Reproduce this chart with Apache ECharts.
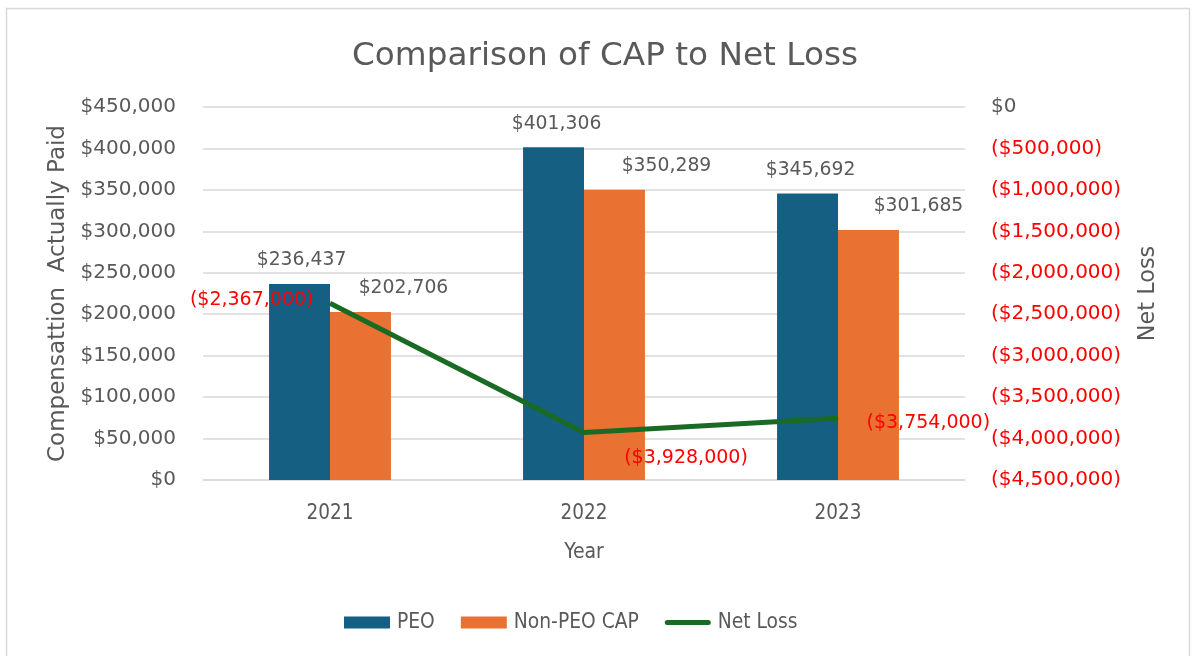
<!DOCTYPE html>
<html>
<head>
<meta charset="utf-8">
<script src="https://cdn.jsdelivr.net/npm/echarts@6/dist/echarts.min.js"></script>
<style>
  html, body { margin: 0; padding: 0; background: #fff; }
  #chart { width: 1194px; height: 656px; }
</style>
</head>
<body>
<div id="chart"></div>
<script>
// data
const years = ['2021', '2022', '2023'];
const peoValues = [236437, 401306, 345692];
const nonPeoValues = [202706, 350289, 301685];
const netLossValues = [-2367000, -3928000, -3754000];

const FONT = 'DejaVu Sans';
const NARROW = '"Liberation Sans Narrow", "DejaVu Sans Condensed", sans-serif';
const GRAY = '#595959';
const RED = '#FF0000';

const money = v => '$' + Math.abs(v).toLocaleString('en-US');

// label placement (the excel chart nudged some labels by hand)
const peoLabelOffsets = [[2, 0], [3, 0], [3, 0]];
const nonPeoLabelOffsets = [[43, 0], [52, 0], [50, 0]];
const netLossLabels = [
    {position: 'left', distance: 16, offset: [0, -3]},
    {position: 'bottom', offset: [102, 10]},
    {position: 'right', distance: 28, offset: [0, 5]},
];

const chart = echarts.init(document.getElementById('chart'));

const barLabel = {
    show: true, position: 'top', distance: 14,
    fontFamily: FONT, fontSize: 18.8, color: GRAY,
    formatter: p => money(p.value),
};

const option = {
    animation: false,
    textStyle: {fontFamily: FONT},
    title: {
        text: 'Comparison of CAP to Net Loss',
        left: 347,
        top: 35,
        textStyle: {fontFamily: FONT, fontSize: 32.7, fontWeight: 'normal', color: GRAY},
    },
    graphic: [{
        type: 'rect',
        shape: {x: 6.5, y: 8.5, width: 1183, height: 660},
        style: {fill: 'none', stroke: '#d9d9d9', lineWidth: 1.5},
        silent: true,
    }],
    legend: {
        top: 607,
        left: 339,
        itemWidth: 46,
        itemHeight: 12,
        itemGap: 26,
        textStyle: {fontFamily: NARROW, fontSize: 20.8, color: GRAY, padding: [0, 0, 0, 2]},
        data: [
            {name: 'PEO', icon: 'rect'},
            {name: 'Non-PEO CAP', icon: 'rect'},
            {name: 'Net Loss', icon: 'path://M0,0 M0,12 M2.5,3.5 L43.5,3.5 A2.5,2.5 0 0 1 43.5,8.5 L2.5,8.5 A2.5,2.5 0 0 1 2.5,3.5 Z M46,0'},
        ],
    },
    grid: {left: 203, right: 229, top: 107, bottom: 176},
    xAxis: {
        type: 'category',
        data: years,
        name: 'Year',
        nameLocation: 'middle',
        nameGap: 62,
        nameTextStyle: {fontFamily: NARROW, fontSize: 21, color: GRAY},
        axisLine: {lineStyle: {color: '#d9d9d9', width: 1.5}},
        axisTick: {show: false},
        axisLabel: {fontFamily: NARROW, fontSize: 20.5, color: GRAY, margin: 23},
    },
    yAxis: [
        {
            type: 'value',
            min: 0,
            max: 450000,
            interval: 50000,
            name: 'Compensattion  Actually Paid',
            nameLocation: 'middle',
            nameGap: 132,
            nameTextStyle: {fontFamily: FONT, fontSize: 23, color: GRAY},
            axisLine: {show: false},
            axisTick: {show: false},
            splitLine: {lineStyle: {color: '#d9d9d9', width: 1.5}},
            axisLabel: {
                fontFamily: FONT, fontSize: 20, color: GRAY, margin: 27,
                formatter: v => money(v),
            },
        },
        {
            type: 'value',
            min: -4500000,
            max: 0,
            interval: 500000,
            name: 'Net Loss',
            nameLocation: 'middle',
            nameGap: 172,
            nameTextStyle: {fontFamily: FONT, fontSize: 22.4, color: GRAY},
            axisLine: {show: false},
            axisTick: {show: false},
            splitLine: {show: false},
            axisLabel: {
                fontFamily: FONT, fontSize: 20, margin: 26,
                formatter: v => v === 0 ? '{g|$0}' : '{r|(' + money(v) + ')}',
                rich: {
                    g: {fontFamily: FONT, fontSize: 20, color: GRAY},
                    r: {fontFamily: FONT, fontSize: 20, color: RED},
                },
            },
        },
    ],
    series: [
        {
            name: 'PEO',
            type: 'bar',
            data: peoValues.map((v, i) => ({value: v, label: {offset: peoLabelOffsets[i]}})),
            barGap: '0%',
            barCategoryGap: '52%',
            itemStyle: {color: '#156082'},
            label: barLabel,
        },
        {
            name: 'Non-PEO CAP',
            type: 'bar',
            data: nonPeoValues.map((v, i) => ({value: v, label: {offset: nonPeoLabelOffsets[i]}})),
            itemStyle: {color: '#E97132'},
            label: barLabel,
        },
        {
            name: 'Net Loss',
            type: 'line',
            yAxisIndex: 1,
            data: netLossValues.map((v, i) => ({
                value: v,
                label: netLossLabels[i],
            })),
            symbol: 'circle',
            symbolSize: 1,
            showSymbol: true,
            lineStyle: {color: '#196B24', width: 5},
            itemStyle: {color: '#196B24'},
            label: {
                show: true,
                fontFamily: FONT, fontSize: 19, color: RED,
                formatter: p => '(' + money(p.value) + ')',
            },
            z: 3,
        },
    ],
};

chart.setOption(option);
</script>
</body>
</html>
